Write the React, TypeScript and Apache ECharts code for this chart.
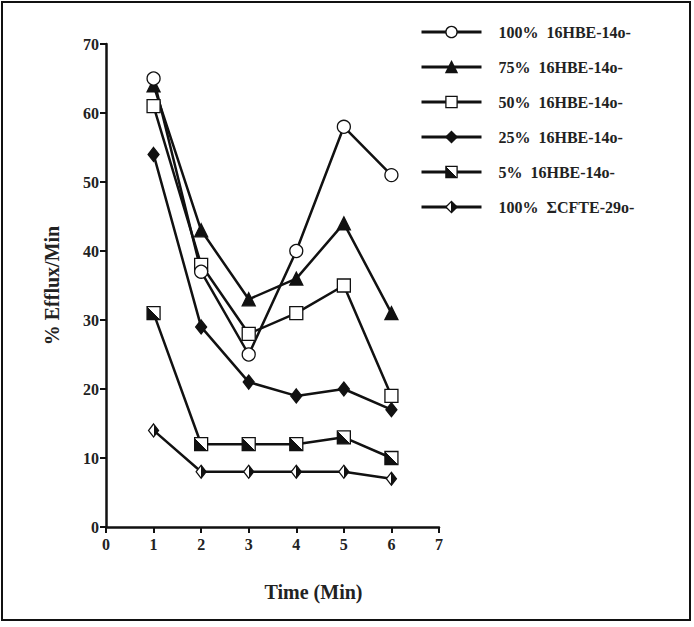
import React, { useEffect, useRef } from "react";
import * as echarts from "echarts";

const times = [1, 2, 3, 4, 5, 6];
const names = [
  "100%\u00a0\u00a016HBE-14o-",
  "75%\u00a0\u00a016HBE-14o-",
  "50%\u00a0\u00a016HBE-14o-",
  "25%\u00a0\u00a016HBE-14o-",
  "5%\u00a0\u00a016HBE-14o-",
  "100%\u00a0\u00a0ΣCFTE-29o-",
];
const s100 = [65, 37, 25, 40, 58, 51];
const s75 = [64, 43, 33, 36, 44, 31];
const s50 = [61, 38, 28, 31, 35, 19];
const s25 = [54, 29, 21, 19, 20, 17];
const s5 = [31, 12, 12, 12, 13, 10];
const sCF = [14, 8, 8, 8, 8, 7];
const yTicks = [0, 10, 20, 30, 40, 50, 60, 70];
const xTicks = [0, 1, 2, 3, 4, 5, 6, 7];

const INK = "#111";
const FONT = "'Liberation Serif', 'DejaVu Serif', serif";

function halfFill(x: number, y: number, x2: number, y2: number) {
  return new echarts.graphic.LinearGradient(x, y, x2, y2, [
    { offset: 0, color: "#fff" },
    { offset: 0.5, color: "#fff" },
    { offset: 0.5, color: INK },
    { offset: 1, color: INK },
  ]);
}

export default function App() {
  const ref = useRef<HTMLDivElement>(null);
  useEffect(() => {
    if (!ref.current) return;
    const chart = echarts.init(ref.current, null, { renderer: "svg" });
    const mk = (name: string, vals: number[], symbol: string, size: any, color: any) => ({
      name,
      type: "line",
      data: vals.map((v, i) => [times[i], v]),
      symbol,
      symbolSize: size,
      lineStyle: { color: INK, width: 2.5 },
      itemStyle: { color, borderColor: INK, borderWidth: 1.3 },
      emphasis: { disabled: true },
    });
    const series = [
      mk(names[5], sCF, "diamond", [10, 13], halfFill(0, 0, 1, 0)),
      mk(names[4], s5, "rect", 13, halfFill(1, 0, 0, 1)),
      mk(names[3], s25, "diamond", [11, 14], INK),
      mk(names[2], s50, "rect", 13, "#fff"),
      mk(names[1], s75, "triangle", 13, INK),
      mk(names[0], s100, "circle", 13, "#fff"),
    ];
    chart.setOption({
      animation: false,
      backgroundColor: "#fff",
      textStyle: { fontFamily: FONT },
      grid: { left: 106, top: 44, right: 255, bottom: 100, containLabel: false },
      legend: {
        data: names,
        orient: "vertical",
        left: 420,
        top: 24,
        padding: 0,
        itemWidth: 60,
        itemHeight: 14,
        itemGap: 19,
        itemStyle: { borderColor: INK, borderWidth: 1.3 },
        lineStyle: { width: 3 },
        textStyle: { fontFamily: FONT, fontWeight: "bold", fontSize: 16, color: "#222", padding: [0, 0, 0, 12] },
        selectedMode: false,
      },
      xAxis: {
        type: "value",
        min: xTicks[0],
        max: xTicks[xTicks.length - 1],
        interval: 1,
        name: "Time (Min)",
        nameLocation: "middle",
        nameGap: 55,
        nameTextStyle: { fontFamily: FONT, fontWeight: "bold", fontSize: 20, color: "#222", padding: [0, 0, 0, 82] },
        axisLine: { lineStyle: { color: INK, width: 2.5 } },
        axisTick: { lineStyle: { color: INK, width: 2 }, length: 6 },
        axisLabel: { fontFamily: FONT, fontWeight: "bold", fontSize: 16, color: "#222", margin: 9 },
        splitLine: { show: false },
      },
      yAxis: {
        type: "value",
        min: yTicks[0],
        max: yTicks[yTicks.length - 1],
        interval: 10,
        name: "% Efflux/Min",
        nameLocation: "middle",
        nameGap: 44,
        nameTextStyle: { fontFamily: FONT, fontWeight: "bold", fontSize: 20, color: "#222" },
        axisLine: { show: true, lineStyle: { color: INK, width: 2.5 } },
        axisTick: { show: true, lineStyle: { color: INK, width: 2 }, length: 6 },
        axisLabel: { fontFamily: FONT, fontWeight: "bold", fontSize: 16, color: "#222", margin: 7 },
        splitLine: { show: false },
      },
      graphic: [
        {
          type: "rect",
          shape: { x: 2, y: 2, width: 688, height: 618 },
          style: { fill: "none", stroke: INK, lineWidth: 2 },
          silent: true,
        },
      ],
      series,
    });
    return () => chart.dispose();
  }, []);
  return <div ref={ref} style={{ width: 694, height: 627, position: "absolute", left: 0, top: 0 }} />;
}
